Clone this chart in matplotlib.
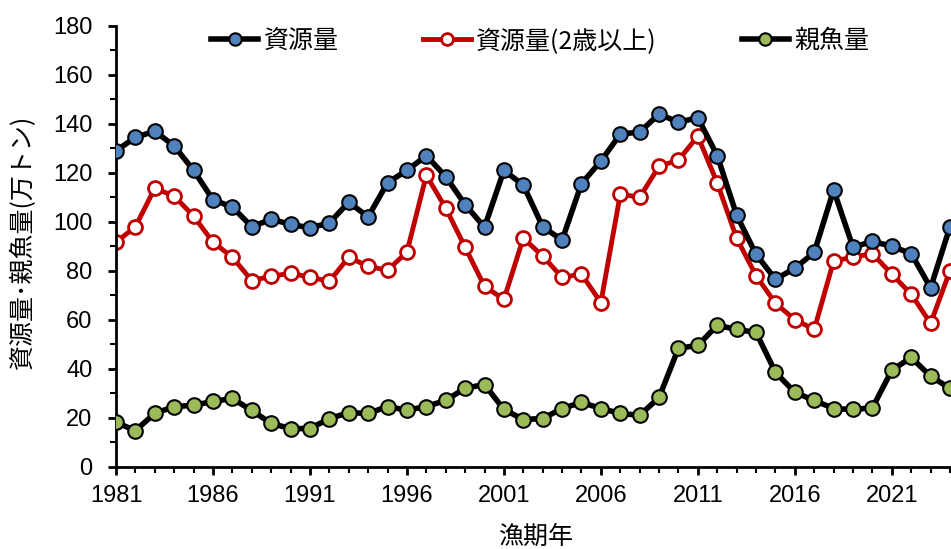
import matplotlib
matplotlib.use("Agg")
import matplotlib.pyplot as plt
from matplotlib.ticker import MultipleLocator

plt.rcParams['font.family'] = ['Liberation Sans', 'Noto Sans CJK JP', 'DejaVu Sans']

years = list(range(1981, 2025))
biomass = [129, 134.5, 137, 131, 121, 109, 106, 98, 101, 99, 97.5, 99.5, 108, 102, 116,
           121, 127, 118.5, 107, 97.8, 121, 115, 98, 92.5, 115.6, 124.8, 135.8, 136.7, 144, 140.7,
           142.5, 127, 102.7, 86.7, 76.5, 81, 87.5, 113, 89.6, 92, 90, 87, 73, 98]
biomass_2plus = [91.6, 98, 113.7, 110.5, 102.3, 91.7, 85.5, 76, 77.7, 79, 77.3, 75.7, 85.5, 81.8, 80.2,
                 87.6, 119, 105.6, 89.6, 73.6, 68.3, 93.3, 86, 77.3, 78.6, 67, 111.3, 110, 122.7, 125.2,
                 135, 115.8, 93.3, 78, 66.7, 60, 56, 84, 85.5, 87, 78.6, 70.4, 58.5, 80]
spawning = [18, 14.7, 21.7, 24.5, 25, 26.6, 27.8, 22.9, 17.6, 15.5, 15.5, 19.6, 22, 21.7, 24.5,
            23, 24.5, 27, 32, 33.5, 23.3, 19.2, 19.6, 23.7, 26.2, 23.7, 21.7, 20.9, 28.2, 48.3,
            49.5, 57.7, 56, 54.8, 38.5, 30.3, 27, 23.7, 23.3, 24, 39.3, 44.6, 36.8, 32]

W, H = 951, 549
x0, x1, ytop, ybot = 116, 950, 26, 466.5
fig = plt.figure(figsize=(W / 100, H / 100), dpi=100)
ax = fig.add_axes([x0 / W, (H - ybot) / H, (x1 - x0) / W, (ybot - ytop) / H])

ax.plot(years, biomass, color='black', lw=4, marker='o', ms=10.5,
        mfc='#4f81bd', mec='black', mew=1.5, label='資源量', zorder=3)
ax.plot(years, biomass_2plus, color='#c00000', lw=3.5, marker='o', ms=10,
        mfc='white', mec='#c00000', mew=2, label='資源量(2歳以上)', zorder=2)
ax.plot(years, spawning, color='black', lw=4, marker='o', ms=10.5,
        mfc='#9bbb59', mec='black', mew=1.5, label='親魚量', zorder=3)

ax.set_xlim(1981, 2024)
ax.set_ylim(0, 180)
ax.set_xticks(list(range(1981, 2025, 5)))
ax.xaxis.set_minor_locator(MultipleLocator(1))
ax.yaxis.set_major_locator(MultipleLocator(20))
ax.yaxis.set_minor_locator(MultipleLocator(10))
ax.tick_params(axis='both', which='major', direction='out', length=6, width=2, labelsize=17, colors='black')
ax.tick_params(axis='both', which='minor', direction='out', length=4.5, width=1.5)
ax.tick_params(axis='x', which='major', pad=7)
ax.tick_params(axis='y', which='major', pad=11)
for s in ['top', 'right']:
    ax.spines[s].set_visible(False)
for s in ['left', 'bottom']:
    ax.spines[s].set_linewidth(2)

ax.set_xlabel('漁期年', fontsize=18, family=['Noto Sans CJK JP'])
ax.xaxis.set_label_coords((536 - x0) / (x1 - x0), (ybot - 537) / (ybot - ytop))
ax.xaxis.label.set_va('center')
ax.set_ylabel('資源量･親魚量(万トン)', fontsize=18, family=['Noto Sans CJK JP', 'DejaVu Sans'])
ax.yaxis.set_label_coords((23 - x0) / (x1 - x0), (ybot - 242) / (ybot - ytop))
ax.yaxis.label.set_va('center')

leg = ax.legend(loc='center', bbox_to_anchor=((540 - x0) / (x1 - x0), (ybot - 41) / (ybot - ytop)),
                ncol=3, frameon=False, prop={'family': ['Noto Sans CJK JP'], 'size': 18},
                handlelength=1.9, columnspacing=3.4, handletextpad=0.2, markerscale=0.85)

fig.savefig('out.png', dpi=100)
